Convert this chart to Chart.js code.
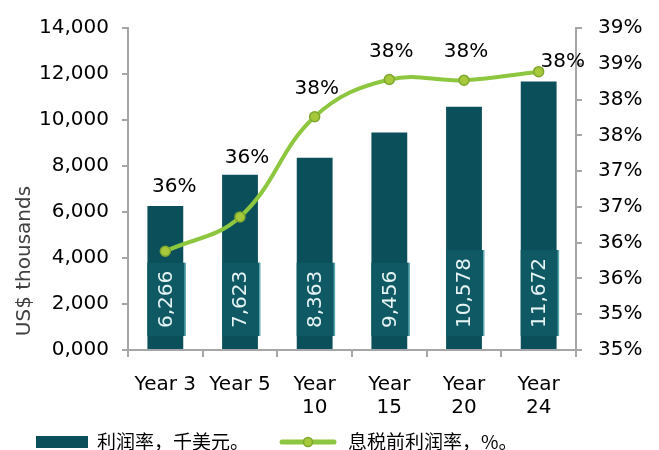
<!DOCTYPE html>
<html>
<head>
<meta charset="utf-8">
<script src="https://cdn.jsdelivr.net/npm/chart.js@4/dist/chart.umd.min.js"></script>
<style>
  html, body { margin: 0; padding: 0; background: #fff; }
  #wrap { width: 659px; height: 450px; position: relative; }
</style>
</head>
<body>
<div id="wrap"><canvas id="profitChart" width="659" height="450"></canvas></div>
<script>
// data
const categories = [['Year 3'], ['Year 5'], ['Year', '10'], ['Year', '15'], ['Year', '20'], ['Year', '24']];
const profitValues = [6266, 7623, 8363, 9456, 10578, 11672];      // 千美元
const marginValues = [35.88, 36.36, 37.76, 38.28, 38.27, 38.39];  // %
const barLabel = '利润率，千美元。';
const lineLabel = '息税前利润率，%。';
const yTitle = 'US$ thousands';

// nudges for the % labels (dx, dy from the point), as in the source chart
const labelNudge = [[9, -64], [7, -59], [2, -28], [2, -28], [2, -28], [24, -10]];

const FONT = "'DejaVu Sans', Verdana, sans-serif";
const CJK = "'Noto Sans CJK SC', 'Noto Sans', sans-serif";
const AXIS = '#a6a6a6';
const BAR = '#0b4f5a';
const LINE = '#8dc63f';

// Excel style "0,000"
const fmt = v => {
  const s = String(Math.round(v)).padStart(4, '0');
  return s.replace(/\B(?=(\d{3})+(?!\d))/g, ',');
};

const extras = {
  id: 'extras',
  afterDatasetDraw(chart, args) {
    if (args.index !== 0) return;
    const { ctx } = chart;
    const y = chart.scales.y;
    const meta = chart.getDatasetMeta(0);
    ctx.save();
    ctx.font = `20px ${FONT}`;
    meta.data.forEach((bar, i) => {
      const txt = fmt(profitValues[i]);
      const w = ctx.measureText(txt).width;
      const base = y.getPixelForValue(0) - 22;
      const cy = base - w / 2;
      // lighter label box
      ctx.fillStyle = '#0f5965';
      ctx.fillRect(bar.x - 18, base - w - 8, 38, w + 16);
      ctx.fillStyle = '#5fa9b3';
      ctx.fillRect(bar.x + 19, base - w - 8, 1.5, w + 16);
      ctx.translate(bar.x, cy);
      ctx.rotate(-Math.PI / 2);
      ctx.fillStyle = '#e6f4f4';
      ctx.textAlign = 'center';
      ctx.textBaseline = 'middle';
      ctx.fillText(txt, 0, 1);
      ctx.setTransform(1, 0, 0, 1, 0, 0);
    });
    ctx.restore();
  },
  afterDraw(chart) {
    const { ctx } = chart;
    const meta = chart.getDatasetMeta(1);
    ctx.save();
    // % labels
    ctx.font = `20px ${FONT}`;
    ctx.fillStyle = '#000';
    ctx.textAlign = 'center';
    ctx.textBaseline = 'middle';
    meta.data.forEach((pt, i) => {
      const [dx, dy] = labelNudge[i];
      ctx.fillText(Math.round(marginValues[i]) + '%', pt.x + dx, pt.y + dy);
    });

    // y title
    ctx.save();
    ctx.translate(25, 261);
    ctx.rotate(-Math.PI / 2);
    ctx.font = `20px ${FONT}`;
    ctx.fillStyle = '#404040';
    ctx.fillText(yTitle, 0, 0);
    ctx.restore();

    // legend
    const ly = 442;
    ctx.fillStyle = BAR;
    ctx.fillRect(36, ly - 6, 52, 12);
    ctx.font = `19px ${CJK}`;
    ctx.fillStyle = '#000';
    ctx.textAlign = 'left';
    ctx.fillText(barLabel, 97, ly);
    ctx.strokeStyle = LINE;
    ctx.lineWidth = 5;
    ctx.lineCap = 'round';
    ctx.beginPath();
    ctx.moveTo(282, ly);
    ctx.lineTo(334, ly);
    ctx.stroke();
    ctx.beginPath();
    ctx.arc(308, ly, 4.5, 0, Math.PI * 2);
    ctx.fillStyle = '#a5c93a';
    ctx.fill();
    ctx.lineWidth = 1.5;
    ctx.strokeStyle = '#7fa72e';
    ctx.stroke();
    ctx.fillStyle = '#000';
    ctx.fillText(lineLabel, 348, ly);
    ctx.restore();
  }
};

new Chart(document.getElementById('profitChart'), {
  data: {
    labels: categories,
    datasets: [
      {
        type: 'bar',
        label: barLabel,
        data: profitValues,
        backgroundColor: BAR,
        borderWidth: 0,
        categoryPercentage: 1,
        barPercentage: 0.48,
        yAxisID: 'y',
        order: 2
      },
      {
        type: 'line',
        label: lineLabel,
        data: marginValues,
        borderColor: LINE,
        borderWidth: 4,
        tension: 0.4,
        pointRadius: 5,
        pointBackgroundColor: '#a5c93a',
        pointBorderColor: '#7fa72e',
        pointBorderWidth: 1.5,
        yAxisID: 'y1',
        order: 1
      }
    ]
  },
  options: {
    responsive: false,
    animation: false,
    layout: { padding: { left: 0, right: 0, top: 21, bottom: 15 } },
    plugins: {
      legend: { display: false },
      tooltip: { enabled: false }
    },
    scales: {
      x: {
        offset: true,
        grid: { offset: true, drawOnChartArea: false, drawTicks: true, tickLength: 7, color: AXIS, lineWidth: 2 },
        border: { color: AXIS, width: 2 },
        ticks: { color: '#000', font: { family: FONT, size: 20, lineHeight: 1.15 }, padding: 16, maxRotation: 0, autoSkip: false },
        afterFit: s => { s.height = 85; }
      },
      y: {
        position: 'left',
        min: 0,
        max: 14000,
        ticks: { stepSize: 2000, color: '#000', font: { family: FONT, size: 20 }, padding: 13, callback: v => fmt(v) },
        grid: { drawOnChartArea: false, tickLength: 6, color: AXIS, lineWidth: 2 },
        border: { color: AXIS, width: 2 },
        afterFit: s => { s.width = 128; }
      },
      y1: {
        position: 'right',
        min: 34.5,
        max: 39,
        ticks: { stepSize: 0.5, color: '#000', font: { family: FONT, size: 20 }, padding: 16, callback: v => Math.round(v + 1e-9) + '%' },
        grid: { drawOnChartArea: false, tickLength: 6, color: AXIS, lineWidth: 2 },
        border: { color: AXIS, width: 2 },
        afterFit: s => { s.width = 83; }
      }
    }
  },
  plugins: [extras]
});
</script>
</body>
</html>
